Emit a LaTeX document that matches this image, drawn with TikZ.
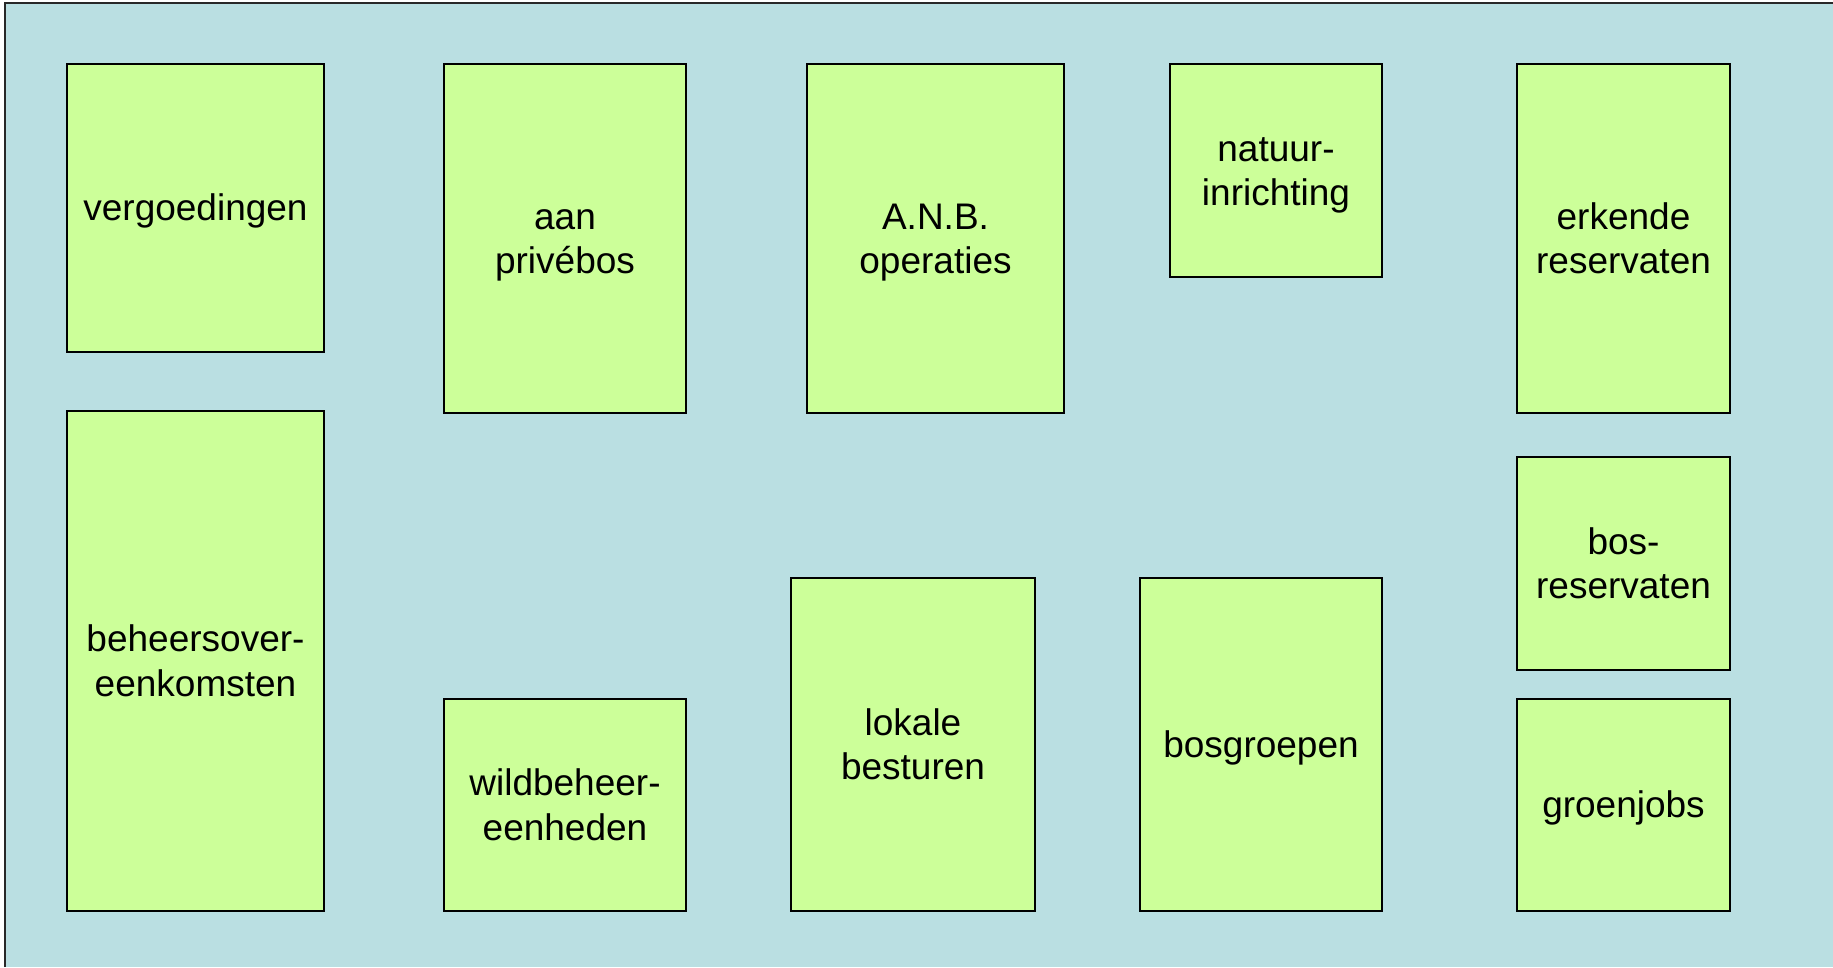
\documentclass[tikz,border=0pt]{standalone}
\usepackage{fontspec}
\setmainfont{Liberation Sans}
\definecolor{bgblue}{RGB}{186,223,226}
\definecolor{boxgreen}{RGB}{204,255,153}
\definecolor{framegray}{RGB}{40,40,40}
\newcommand\ts{\rule[-0.212em]{0pt}{1.117em}}
\begin{document}
\begin{tikzpicture}[x=1pt,y=-1pt,
  box/.style={draw=black, fill=boxgreen, line width=1.8pt, inner sep=0pt,
    align=center, font=\fontsize{37}{44.5}\selectfont},
]
\useasboundingbox (0,0) rectangle (1833,967);
\fill[bgblue] (5,3) rectangle (1833,967);
\draw[framegray, line width=2pt] (5,967) -- (5,3) -- (1833,3);
% column 1
\node[box, minimum width=257pt, minimum height=288pt] (verg) at (195.5,208) {\ts vergoedingen};
\node[box, minimum width=257pt, minimum height=500pt] (beh) at (195.5,661) {\ts beheersover-\\\ts eenkomsten};
% column 2
\node[box, minimum width=242pt, minimum height=349pt] (aan) at (565,238.5) {\ts aan\\\ts privébos};
\node[box, minimum width=242pt, minimum height=212pt] (wild) at (565,805) {\ts wildbeheer-\\\ts eenheden};
% column 3
\node[box, minimum width=257pt, minimum height=349pt] (anb) at (935.5,238.5) {\ts A.N.B.\\\ts operaties};
\node[box, minimum width=244pt, minimum height=333pt] (lok) at (913,744.5) {\ts lokale\\\ts besturen};
% column 4
\node[box, minimum width=212pt, minimum height=213pt] (nat) at (1276,170.5) {\ts natuur-\\\ts inrichting};
\node[box, minimum width=242pt, minimum height=333pt] (bosg) at (1261,744.5) {\ts bosgroepen};
% column 5
\node[box, minimum width=213pt, minimum height=349pt] (erk) at (1623.5,238.5) {\ts erkende\\\ts reservaten};
\node[box, minimum width=213pt, minimum height=213pt] (bosr) at (1623.5,563.5) {\ts bos-\\\ts reservaten};
\node[box, minimum width=213pt, minimum height=212pt] (groen) at (1623.5,805) {\ts groenjobs};
\end{tikzpicture}
\end{document}
